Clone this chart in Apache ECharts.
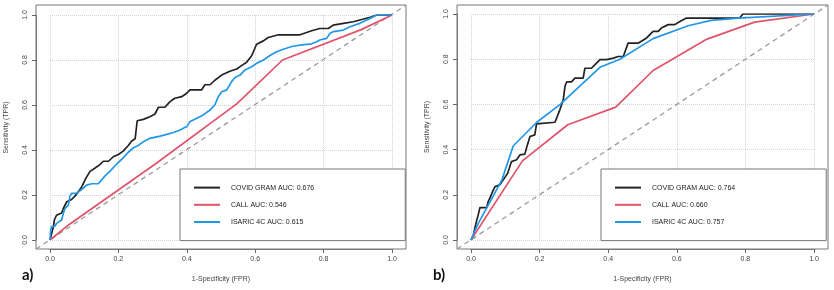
<!DOCTYPE html>
<html>
<head>
<meta charset="utf-8">
<script src="https://cdn.jsdelivr.net/npm/echarts@6/dist/echarts.min.js"></script>
<style>html,body{margin:0;padding:0;background:#fff;}#c{width:834px;height:290px;}</style>
</head>
<body>
<div id="c"></div>
<script>
// ---- data (FPR, TPR) ----
const tickValues = [0, 0.2, 0.4, 0.6, 0.8, 1.0];
const tickLabels = ['0.0', '0.2', '0.4', '0.6', '0.8', '1.0'];
const diagonal = [[-0.04, -0.04], [1.04, 1.04]];

const namesA = ['COVID GRAM AUC: 0.676', 'CALL AUC: 0.546', 'ISARIC 4C AUC: 0.615'];
const namesB = ['COVID GRAM AUC: 0.764', 'CALL AUC: 0.660', 'ISARIC 4C AUC: 0.757'];

const covidA = [[0,0],[0.005,0.03],[0.01,0.06],[0.013,0.09],[0.019,0.11],[0.034,0.12],[0.039,0.14],[0.049,0.17],[0.063,0.18],[0.073,0.195],[0.083,0.215],[0.093,0.237],[0.105,0.275],[0.117,0.305],[0.132,0.32],[0.146,0.335],[0.156,0.35],[0.171,0.35],[0.185,0.37],[0.2,0.38],[0.214,0.395],[0.229,0.42],[0.239,0.44],[0.249,0.45],[0.255,0.53],[0.273,0.536],[0.292,0.548],[0.307,0.56],[0.317,0.59],[0.336,0.59],[0.351,0.615],[0.365,0.63],[0.385,0.637],[0.4,0.652],[0.409,0.667],[0.443,0.667],[0.453,0.69],[0.468,0.69],[0.482,0.71],[0.502,0.733],[0.526,0.75],[0.546,0.76],[0.56,0.775],[0.575,0.79],[0.59,0.82],[0.604,0.87],[0.624,0.885],[0.638,0.9],[0.668,0.912],[0.731,0.912],[0.746,0.92],[0.765,0.93],[0.789,0.94],[0.814,0.94],[0.828,0.955],[0.858,0.963],[0.887,0.97],[0.906,0.978],[0.936,0.99],[0.955,1],[1,1]];
const callA = [[0,0],[0.055,0.068],[0.31,0.34],[0.546,0.605],[0.68,0.80],[0.91,0.935],[1,1]];
const isaricA = [[0,0],[0.002,0.044],[0.005,0.06],[0.015,0.062],[0.019,0.074],[0.034,0.089],[0.039,0.119],[0.044,0.141],[0.054,0.156],[0.058,0.193],[0.063,0.207],[0.078,0.207],[0.083,0.215],[0.097,0.23],[0.107,0.244],[0.122,0.25],[0.141,0.25],[0.151,0.267],[0.161,0.285],[0.175,0.305],[0.19,0.33],[0.2,0.345],[0.214,0.365],[0.229,0.39],[0.244,0.41],[0.258,0.42],[0.273,0.437],[0.292,0.452],[0.322,0.462],[0.336,0.467],[0.361,0.478],[0.38,0.489],[0.4,0.504],[0.409,0.526],[0.429,0.541],[0.448,0.556],[0.468,0.578],[0.482,0.6],[0.492,0.637],[0.502,0.659],[0.517,0.667],[0.531,0.704],[0.541,0.722],[0.556,0.733],[0.57,0.756],[0.59,0.77],[0.604,0.785],[0.624,0.8],[0.643,0.82],[0.663,0.837],[0.682,0.848],[0.707,0.86],[0.736,0.867],[0.765,0.872],[0.78,0.881],[0.789,0.889],[0.809,0.896],[0.819,0.919],[0.828,0.926],[0.858,0.933],[0.877,0.948],[0.906,0.963],[0.926,0.978],[0.936,0.985],[0.955,1],[1,1]];

const covidB = [[0,0],[0.007,0.022],[0.01,0.044],[0.015,0.044],[0.017,0.089],[0.021,0.111],[0.026,0.143],[0.046,0.143],[0.05,0.17],[0.055,0.185],[0.063,0.214],[0.07,0.236],[0.084,0.244],[0.094,0.266],[0.107,0.295],[0.118,0.347],[0.133,0.355],[0.143,0.377],[0.157,0.38],[0.163,0.414],[0.172,0.458],[0.186,0.465],[0.191,0.514],[0.196,0.521],[0.245,0.521],[0.259,0.576],[0.269,0.62],[0.274,0.68],[0.279,0.70],[0.293,0.70],[0.303,0.716],[0.327,0.716],[0.332,0.76],[0.351,0.76],[0.366,0.783],[0.376,0.798],[0.395,0.798],[0.415,0.805],[0.429,0.812],[0.444,0.812],[0.458,0.871],[0.487,0.871],[0.512,0.894],[0.531,0.923],[0.546,0.923],[0.555,0.938],[0.575,0.953],[0.594,0.953],[0.609,0.967],[0.628,0.982],[0.783,0.982],[0.793,1],[1,1]];
const callB = [[0,0],[0.15,0.35],[0.282,0.51],[0.422,0.588],[0.531,0.75],[0.688,0.889],[0.827,0.964],[1,1]];
const isaricB = [[0,0],[0.02,0.07],[0.09,0.265],[0.123,0.416],[0.191,0.52],[0.26,0.60],[0.376,0.764],[0.434,0.80],[0.531,0.891],[0.633,0.948],[0.70,0.972],[0.78,0.982],[1,1]];

// ---- styling ----
const FONT = 'Liberation Sans';
const COL = {covid: '#222222', call: '#DF536B', isaric: '#2297E6'};
const fmt = v => { const i = tickValues.findIndex(t => Math.abs(t - v) < 1e-9); return i >= 0 ? tickLabels[i] : ''; };

function frameAxis(gi) {
  return {gridIndex: gi, type: 'value', min: -0.04, max: 1.04, show: false};
}
function dataX(gi) {
  return {
    gridIndex: gi, type: 'value', min: 0, max: 1, interval: 0.2, position: 'bottom', offset: 9,
    axisLine: {show: true, onZero: false, lineStyle: {color: '#777', width: 1}},
    axisTick: {show: true, length: 4, lineStyle: {color: '#666'}},
    axisLabel: {fontSize: 7, color: '#444', fontFamily: FONT, margin: 7, formatter: fmt},
    splitLine: {show: true, lineStyle: {color: '#d4d4d4', type: 'dotted', width: 1}},
    name: '1-Specificity (FPR)', nameLocation: 'middle', nameGap: 27,
    nameTextStyle: {fontSize: 7, color: '#444', fontFamily: FONT}
  };
}
function dataY(gi, off) {
  return {
    gridIndex: gi, type: 'value', min: 0, max: 1, interval: 0.2, position: 'left', offset: off,
    axisLine: {show: true, onZero: false, lineStyle: {color: '#777', width: 1}},
    axisTick: {show: true, length: 4, lineStyle: {color: '#666'}},
    axisLabel: {fontSize: 7, color: '#444', fontFamily: FONT, margin: 7, rotate: 90, formatter: fmt},
    splitLine: {show: true, lineStyle: {color: '#d4d4d4', type: 'dotted', width: 1}},
    name: 'Sensitivity (TPR)', nameLocation: 'middle', nameGap: 26,
    nameTextStyle: {fontSize: 7, color: '#444', fontFamily: FONT}
  };
}
function curve(name, data, color, xi, yi) {
  return {name, type: 'line', data, xAxisIndex: xi, yAxisIndex: yi, symbol: 'none', showSymbol: false,
    lineStyle: {color, width: 1.7}, itemStyle: {color}, z: 3, silent: true, animation: false};
}
function diag(xi, yi) {
  return {name: 'diag', type: 'line', data: diagonal, xAxisIndex: xi, yAxisIndex: yi, symbol: 'none',
    lineStyle: {color: '#9a9a9a', width: 1.3, type: [5, 4]}, z: 2, silent: true, animation: false};
}
function legend(left, names) {
  return {
    show: true, orient: 'vertical', left, top: 169, data: names,
    itemWidth: 26, itemHeight: 14, itemGap: 6, padding: [13, 91, 13, 13],
    backgroundColor: '#fff', borderColor: '#777', borderWidth: 1, borderRadius: 0,
    selectedMode: false,
    itemStyle: {opacity: 0},
    textStyle: {fontSize: 7, color: '#222', fontFamily: FONT, padding: [0, 0, 0, 6]}
  };
}

const option = {
  animation: false,
  backgroundColor: '#fff',
  title: [
    {text: 'a)', left: 17, top: 263, textStyle: {fontSize: 15, fontWeight: 'bold', color: '#111', fontFamily: 'Lato'}},
    {text: 'b)', left: 428, top: 263, textStyle: {fontSize: 15, fontWeight: 'bold', color: '#111', fontFamily: 'Lato'}}
  ],
  grid: [
    {left: 36, top: 5, width: 370, height: 244, show: true, borderColor: '#777', borderWidth: 1, backgroundColor: 'transparent'},
    {left: 50, top: 15, width: 342, height: 225},
    {left: 457, top: 5, width: 371, height: 244, show: true, borderColor: '#777', borderWidth: 1, backgroundColor: 'transparent'},
    {left: 471, top: 14, width: 343, height: 226}
  ],
  xAxis: [frameAxis(0), dataX(1), frameAxis(2), dataX(3)],
  yAxis: [frameAxis(0), dataY(1, 14), frameAxis(2), dataY(3, 14)],
  legend: [legend(180, namesA), legend(601, namesB)],
  series: [
    diag(0, 0),
    curve(namesA[0], covidA, COL.covid, 1, 1),
    curve(namesA[1], callA, COL.call, 1, 1),
    curve(namesA[2], isaricA, COL.isaric, 1, 1),
    diag(2, 2),
    curve(namesB[0], covidB, COL.covid, 3, 3),
    curve(namesB[1], callB, COL.call, 3, 3),
    curve(namesB[2], isaricB, COL.isaric, 3, 3)
  ]
};
const chart = echarts.init(document.getElementById('c'), null, {renderer: 'canvas'});
chart.setOption(option);
</script>
</body>
</html>
